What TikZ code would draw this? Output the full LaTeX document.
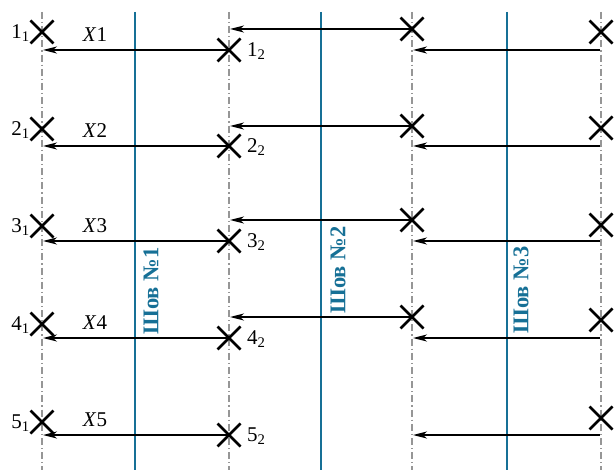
\documentclass[tikz,border=0pt]{standalone}
\usepackage{fontspec}
\setmainfont{Liberation Serif}
\usetikzlibrary{arrows.meta,shapes.misc}
\definecolor{shov}{RGB}{22,112,150}
\definecolor{axisgray}{RGB}{150,150,150}
\begin{document}
\begin{tikzpicture}[x=1pt,y=-1pt,
  axisline/.style={axisgray, line width=1.1pt, dash pattern=on 7pt off 3pt on 1.2pt off 3pt},
  seam/.style={shov, line width=1.6pt},
  arr/.style={-{Stealth[length=14pt,width=7pt,inset=4pt]}, line width=1.4pt},
  xmark/.style={cross out, draw, line width=2.6pt, minimum size=23pt, inner sep=0pt, outer sep=0pt},
  lbl/.style={font=\fontsize{21}{24}\selectfont, inner sep=0pt},
  shovlbl/.style={font=\fontsize{22.5}{26}\selectfont\bfseries, text=shov, rotate=90, inner sep=0pt}]
\useasboundingbox (0,0) rectangle (615,470);
% axes
\foreach \x/\n in {42/a1,229/a2,412/a3,601/a4}{
  \coordinate (\n t) at (\x,12);
  \coordinate (\n b) at (\x,470);
  \draw[axisline] (\n t) -- (\n b);
}
% seams
\foreach \x/\n in {135/s1,321/s2,507/s3}{
  \coordinate (\n t) at (\x,12);
  \coordinate (\n b) at (\x,470);
  \draw[seam] (\n t) -- (\n b);
}
\node[shovlbl] (sh1) at (151,291) {Шов №1};
\node[shovlbl] (sh2) at (338,270) {Шов №2};
\node[shovlbl] (sh3) at (521,290) {Шов №3};
% rows: index / left cross y / arrow y / middle cross y / right cross y
\foreach \i/\yl/\ya/\ym/\yr in {1/32/50/29/32, 2/129/146/126/128, 3/226/241/220/225, 4/324/338/317/320}{
  \coordinate (la\i) at (43,\ya);
  \coordinate (ma\i) at (230,\ym);
  \coordinate (ra\i) at (413,\ya);
  \coordinate (rs\i) at (600,\ya);
  \node[xmark] (l\i) at (42,\yl) {};
  \node[xmark] (m\i) at (229,\ya) {};
  \node[xmark] (c\i) at (412,\ym) {};
  \node[xmark] (r\i) at (601,\yr) {};
  \draw[arr] (m\i.center) -- (la\i);
  \draw[arr] (c\i.center) -- (ma\i);
  \draw[arr] (rs\i) -- (ra\i);
  \node[lbl, anchor=east] (nl\i) at (30,\yl+1) {\i\textsubscript{1}};
  \node[lbl, anchor=west] (nm\i) at (247,\ya+1) {\i\textsubscript{2}};
  \node[lbl, anchor=south] (x\i) at (95,\ya-8) {\textit{X}\i};
}
% row 5
\coordinate (la5) at (43,435);
\coordinate (ra5) at (413,435);
\coordinate (rs5) at (600,435);
\node[xmark] (l5) at (42,422) {};
\node[xmark] (m5) at (229,435) {};
\node[xmark] (r5) at (601,418) {};
\draw[arr] (m5.center) -- (la5);
\draw[arr] (rs5) -- (ra5);
\node[lbl, anchor=east] (nl5) at (30,423) {5\textsubscript{1}};
\node[lbl, anchor=west] (nm5) at (247,436) {5\textsubscript{2}};
\node[lbl, anchor=south] (x5) at (95,427) {\textit{X}5};
\end{tikzpicture}
\end{document}
